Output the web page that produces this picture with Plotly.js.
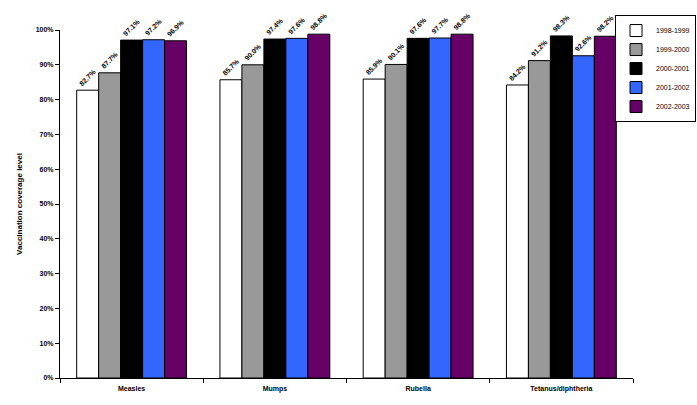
<!DOCTYPE html>
<html>
<head>
<meta charset="utf-8">
<script src="https://cdn.plot.ly/plotly-3.0.1.min.js"></script>
<style>
  html, body { margin: 0; padding: 0; background: #fff; }
  #chart { width: 697px; height: 405px; }
</style>
</head>
<body>
<div id="chart"></div>
<script>
// vaccination coverage by disease and school year (percent)
var diseases = ['Measles', 'Mumps', 'Rubella', 'Tetanus/diphtheria'];
var years = ['1998-1999', '1999-2000', '2000-2001', '2001-2002', '2002-2003'];
var cov9899 = [82.7, 85.7, 85.9, 84.2];
var cov9900 = [87.7, 90.0, 90.1, 91.2];
var cov0001 = [97.1, 97.4, 97.6, 98.3];
var cov0102 = [97.2, 97.6, 97.7, 92.6];
var cov0203 = [96.9, 98.8, 98.8, 98.2];
var yTicks = [0, 10, 20, 30, 40, 50, 60, 70, 80, 90, 100];
var yTickText = yTicks.map(function(v) { return v + '%'; });

var series = [cov9899, cov9900, cov0001, cov0102, cov0203];
var colors = ['#ffffff', '#999999', '#000000', '#3366ff', '#660066'];

var fam = 'Liberation Sans, Arial, sans-serif';
var font = {family: fam, size: 7, color: '#000', weight: 'bold'};

var data = series.map(function(vals, i) {
    return {
        type: 'bar',
        name: years[i],
        x: diseases,
        y: vals,
        marker: {color: colors[i], line: {color: '#000', width: 1}},
        texttemplate: '%{y:.1f}%',
        textposition: 'outside',
        textangle: -45,
        constraintext: 'none',
        cliponaxis: false,
        textfont: font,
        hoverinfo: 'x+y+name'
    };
});

var layout = {
    width: 697,
    height: 405,
    margin: {l: 60, r: 64, t: 30, b: 27, autoexpand: false},
    paper_bgcolor: '#fff',
    plot_bgcolor: '#fff',
    font: {family: fam, size: 7, color: '#000'},
    barmode: 'group',
    bargap: 0.233,
    bargroupgap: 0,
    showlegend: true,
    legend: {
        x: 1.110, xanchor: 'right',
        y: 1.043, yanchor: 'top',
        bgcolor: '#fff',
        bordercolor: '#000',
        borderwidth: 1,
        font: {family: fam, size: 7, color: '#000', weight: 'normal'},
        itemwidth: 30,
        tracegroupgap: 5
    },
    xaxis: {
        showline: true, linecolor: '#000', linewidth: 1,
        ticks: 'outside', tickson: 'boundaries', ticklen: 4, tickcolor: '#000',
        ticklabelstandoff: 4,
        showgrid: false,
        tickfont: font
    },
    yaxis: {
        range: [0, 100],
        tickmode: 'array',
        tickvals: yTicks,
        ticktext: yTickText,
        showline: true, linecolor: '#000', linewidth: 1,
        ticks: 'outside', ticklen: 4, tickcolor: '#000',
        showgrid: false, zeroline: false,
        tickfont: font,
        title: {text: 'Vaccination coverage level', font: {family: fam, size: 8, color: '#000', weight: 'bold'}, standoff: 11}
    }
};

Plotly.newPlot('chart', data, layout, {displayModeBar: false, staticPlot: true});
</script>
</body>
</html>
